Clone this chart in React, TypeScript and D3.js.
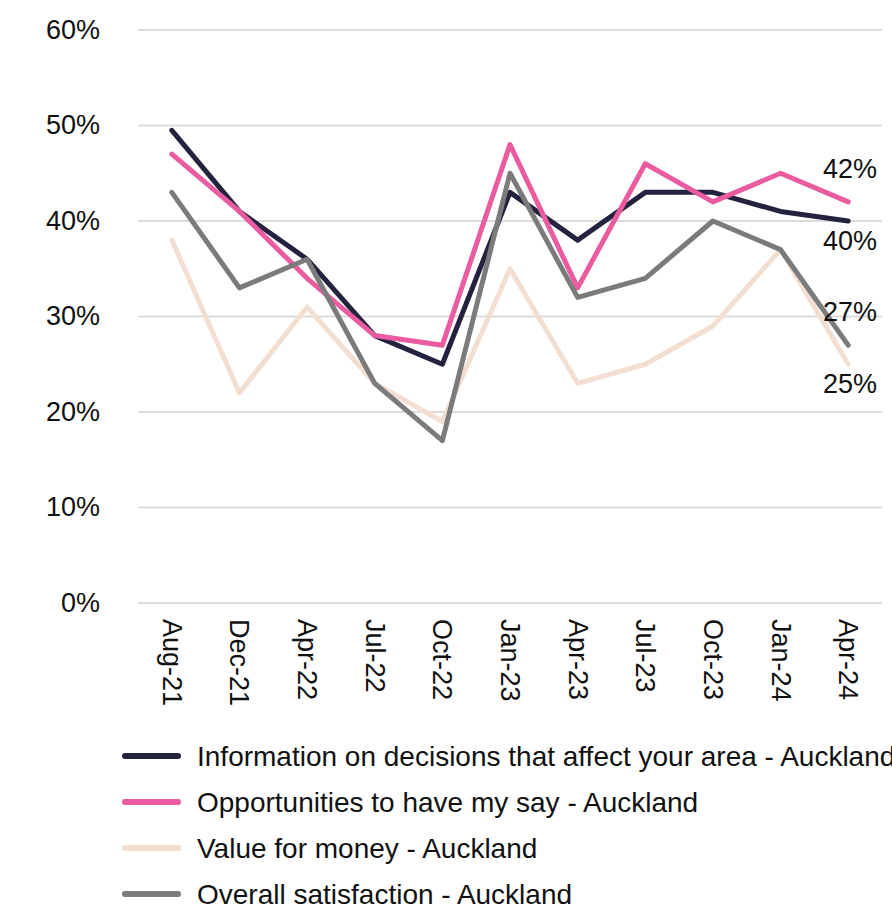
import React, { useEffect, useRef } from "react";
import * as d3 from "d3";

const months = ["Aug-21", "Dec-21", "Apr-22", "Jul-22", "Oct-22", "Jan-23", "Apr-23", "Jul-23", "Oct-23", "Jan-24", "Apr-24"];
const yTicks = [0, 0.1, 0.2, 0.3, 0.4, 0.5, 0.6];

const infoDecisions = [49.5, 41, 36, 28, 25, 43, 38, 43, 43, 41, 40];
const haveMySay = [47, 41, 34, 28, 27, 48, 33, 46, 42, 45, 42];
const valueForMoney = [38, 22, 31, 23, 19, 35, 23, 25, 29, 37, 25];
const overallSatisfaction = [43, 33, 36, 23, 17, 45, 32, 34, 40, 37, 27];

const series = [
  { name: "Information on decisions that affect your area - Auckland", values: infoDecisions, color: "#23233f", label: "below" },
  { name: "Opportunities to have my say - Auckland", values: haveMySay, color: "#ea5b9f", label: "above" },
  { name: "Value for money - Auckland", values: valueForMoney, color: "#f3dfd2", label: "below" },
  { name: "Overall satisfaction - Auckland", values: overallSatisfaction, color: "#7b7b7b", label: "above" },
];

const W = 892;
const H = 905;
const FONT = "'Liberation Sans', Arial, sans-serif";

export default function App() {
  const ref = useRef<SVGSVGElement>(null);

  useEffect(() => {
    const svg = d3.select(ref.current);
    svg.selectAll("*").remove();

    const x = d3.scalePoint<string>().domain(months).range([138, 882]).padding(0.5);
    const y = d3.scaleLinear().domain([0, 0.6]).range([603, 30]);

    // gridlines
    svg.append("g")
      .selectAll("line")
      .data(yTicks)
      .join("line")
      .attr("x1", 138)
      .attr("x2", 882)
      .attr("y1", (d) => y(d))
      .attr("y2", (d) => y(d))
      .attr("stroke", "#dcdcdc")
      .attr("stroke-width", 2);

    // y labels
    const yAxis = d3.axisLeft(y).tickValues(yTicks).tickFormat(d3.format(".0%")).tickSize(0).tickPadding(0);
    const yg = svg.append("g").attr("transform", "translate(100,0)").call(yAxis);
    yg.select(".domain").remove();
    yg.selectAll("text")
      .attr("font-family", FONT)
      .attr("font-size", 27)
      .attr("fill", "#111")
      .attr("dy", "0.3em");

    // x labels, rotated
    svg.append("g")
      .selectAll("text")
      .data(months)
      .join("text")
      .attr("transform", (d) => `translate(${x(d)! - 9},619) rotate(90)`)
      .attr("font-family", FONT)
      .attr("font-size", 27)
      .attr("fill", "#111")
      .text((d) => d);

    const line = d3.line<number>()
      .x((_, i) => x(months[i])!)
      .y((d) => y(d / 100));

    series.forEach((s) => {
      svg.append("path")
        .attr("d", line(s.values))
        .attr("fill", "none")
        .attr("stroke", s.color)
        .attr("stroke-width", 5)
        .attr("stroke-linejoin", "round")
        .attr("stroke-linecap", "round");
    });

    // end labels
    series.forEach((s) => {
      const v = s.values[s.values.length - 1];
      svg.append("text")
        .attr("x", 877)
        .attr("y", y(v / 100) + (s.label === "above" ? -24 : 29))
        .attr("text-anchor", "end")
        .attr("font-family", FONT)
        .attr("font-size", 27)
        .attr("fill", "#111")
        .text(`${Math.round(v)}%`);
    });

    // legend
    const lg = svg.append("g").attr("transform", "translate(125,756)");
    series.forEach((s, i) => {
      const row = lg.append("g").attr("transform", `translate(0,${i * 46})`);
      row.append("line")
        .attr("x1", 0)
        .attr("x2", 53)
        .attr("stroke", s.color)
        .attr("stroke-width", 6)
        .attr("stroke-linecap", "round");
      row.append("text")
        .attr("x", 72)
        .attr("dy", "0.35em")
        .attr("font-family", FONT)
        .attr("font-size", 28)
        .attr("fill", "#111")
        .text(s.name);
    });
  }, []);

  return (
    <svg
      ref={ref}
      width={W}
      height={H}
      style={{ position: "absolute", left: 0, top: 0, background: "#fff" }}
    />
  );
}
